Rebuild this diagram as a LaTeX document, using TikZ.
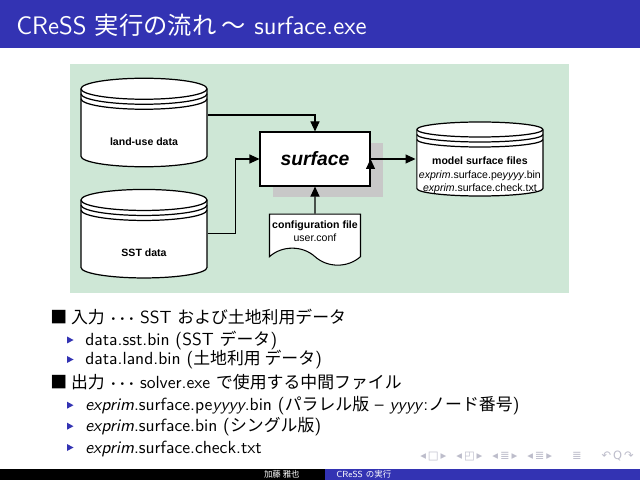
\documentclass[tikz,border=0pt]{standalone}
\usepackage{fontspec}
\newfontfamily\jp[Scale=0.96]{Noto Sans CJK JP}
\newfontfamily\arial{Liberation Sans}
\newfontfamily\dejavu{DejaVu Sans}
\usetikzlibrary{arrows.meta,positioning,shapes.symbols,shadows}
\definecolor{barblue}{RGB}{51,51,179}
\definecolor{panelgreen}{RGB}{206,231,214}
\definecolor{shadowgray}{RGB}{200,200,200}

\begin{document}
\begin{tikzpicture}[x=0.2mm, y=-0.2mm, >={Triangle[length=2mm,width=1.8mm]},
    disk ry/.store in=\diskry,
    disk/.style={fill=panelgreen, minimum width=25.6mm, inner sep=0pt, disk ry=2.1mm,
      font=\arial\fontsize{6}{7.6}\selectfont\bfseries,
      path picture={
        \draw[fill=white, line width=.7pt]
          ([xshift=.2mm,yshift=-\diskry-.2mm]path picture bounding box.north west)
          -- ([xshift=.2mm,yshift=\diskry+.2mm]path picture bounding box.south west)
          arc[start angle=180, end angle=360, x radius=12.6mm, y radius=\diskry]
          -- ([xshift=-.2mm,yshift=-\diskry-.2mm]path picture bounding box.north east)
          arc[start angle=0, end angle=180, x radius=12.6mm, y radius=\diskry] -- cycle;
        \foreach \d in {0,1,2}
          \draw[line width=.7pt] ([xshift=.2mm,yshift=-\diskry-.2mm-\d mm]path picture bounding box.north west)
            arc[start angle=180, end angle=360, x radius=12.6mm, y radius=\diskry];
      }},
    slide/.style={anchor=base west, inner sep=0pt, font=\sffamily\fontsize{10}{12}\selectfont}]

  \useasboundingbox (0,0) rectangle (640,480);
  \fill[white] (0,0) rectangle (640,480);

  % title bar
  \fill[barblue] (0,0) rectangle (640,48);
  \node[anchor=base west, inner sep=0pt, text=white, font=\sffamily\fontsize{14.4}{17}\selectfont]
    (title) at (16,35) {CReSS {\jp 実行の流れ 〜} surface.exe};

  % flow chart
  \fill[panelgreen] (70,64) rectangle (569,293);

  \node[disk, text height=13.6mm, text depth=4.5mm] (landuse) at (144,122.5) {land-use data};
  \node[disk, text height=13.6mm, text depth=4.5mm] (sst) [below=4mm of landuse] {SST data};
  \node[draw, fill=white, line width=.6pt, minimum width=22mm, minimum height=10.8mm,
    drop shadow={shadow xshift=2.5mm, shadow yshift=-2.2mm, fill=shadowgray, opacity=1},
    font=\arial\fontsize{11}{13}\selectfont\bfseries\itshape] (surface) at (315,159) {surface};
  \node[disk, disk ry=1.5mm, font=\arial\fontsize{6}{7.6}\selectfont, text height=14.1mm, text depth=1.1mm]
    (model) [right=9mm of surface]
    {\begin{tabular}[b]{@{}c@{}}\bfseries model surface files\\
      \textit{exprim}.surface.pe\textit{yyyy}.bin\\
      \textit{exprim}.surface.check.txt\end{tabular}};
  \node[tape, draw, fill=white, line width=.6pt, tape bend top=none, tape bend bottom=out and in,
    tape bend height=3.4mm, minimum width=18.2mm, inner xsep=.5mm, inner ysep=1.3mm, align=center,
    font=\arial\fontsize{6}{7.6}\selectfont] (config) [below=5.4mm of surface]
    {\textbf{configuration file}\\user.conf};

  \path[->, draw, line width=.6pt]
    ([yshift=1.5mm]landuse.east) edge[to path={-| (\tikztotarget)}] (surface.north)
    (sst.east) edge[to path={-- ++(27,0) |- (\tikztotarget)}] (surface.west)
    (config) edge (surface)
    (surface.east) edge (surface.east -| model.west);

  % text of the slide
  \node[slide] (in) at (50,324) {{\jp ■ 入力} {\boldmath$\cdots$} SST {\jp および土地利用データ}};
  \node[slide] (sstbin) at (85,345.5) {data.sst.bin (SST {\jp データ})};
  \node[slide] (landbin) at (85,365) {data.land.bin ({\jp 土地利用 データ})};
  \node[slide] (out) at (50,388) {{\jp ■ 出力} {\boldmath$\cdots$} solver.exe {\jp で使用する中間ファイル}};
  \node[slide] (pebin) at (85,410.7) {\textit{exprim}.surface.pe\textit{yyyy}.bin ({\jp パラレル版} -- \textit{yyyy}:{\jp ノード番号})};
  \node[slide] (sgbin) at (85,431.7) {\textit{exprim}.surface.bin ({\jp シングル版})};
  \node[slide] (chk) at (85,453) {\textit{exprim}.surface.check.txt};
  \foreach \y in {345.5,365,410.7,431.7,453}
    \fill[barblue] (67,\y-9) -- (73.5,\y-5.5) -- (67,\y-2) -- cycle;

  % navigation and foot line
  \node[anchor=east, inner sep=0pt, text=barblue!25!gray!45, font=\dejavu\fontsize{6.5}{7}\selectfont]
    (nav) at (634,456) {◂\,□\,▸\hspace{2mm}◂\,◰\,▸\hspace{2mm}◂\,≣\,▸\hspace{2mm}◂\,≣\,▸\hspace{4mm}≣\hspace{4mm}↶\,Q\,↷};
  \fill[black] (0,469) rectangle (325,480);
  \fill[barblue] (325,469) rectangle (640,480);
  \node[anchor=east, inner sep=0pt, text=white, font=\jp\fontsize{5}{6}\selectfont]
    (author) at (300,474.5) {加藤 雅也};
  \node[anchor=west, inner sep=0pt, text=white, font=\sffamily\fontsize{5}{6}\selectfont]
    (short) at (336,474.5) {CReSS {\jp の実行}};
\end{tikzpicture}
\end{document}
